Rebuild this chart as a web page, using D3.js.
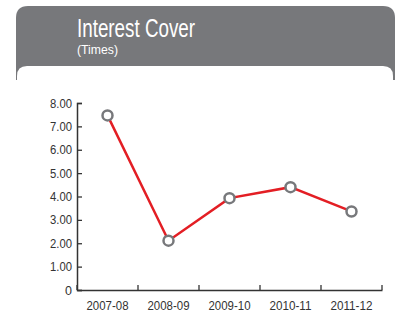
<!DOCTYPE html>
<html>
<head>
<meta charset="utf-8">
<script src="https://cdn.jsdelivr.net/npm/d3@7"></script>
<style>
  body { margin: 0; background: #fff; }
  svg { display: block; }
  text { font-family: "Liberation Sans Narrow", "Arial Narrow", "Liberation Sans", Arial, sans-serif; }
</style>
</head>
<body>
<div id="wrapper"></div>
<script>
const years = ["2007-08", "2008-09", "2009-10", "2010-11", "2011-12"];
const cover = [7.47, 2.11, 3.93, 4.40, 3.36];
const yTicks = [0, 1, 2, 3, 4, 5, 6, 7, 8];

const width = 395, height = 313;
const margin = {top: 103, right: 13, bottom: 23, left: 77};

const svg = d3.select("#wrapper")
    .append("svg")
    .attr("width", width)
    .attr("height", height);

// header box
const grey = "#77787b";
svg.append("path")
    .attr("d", "M16,80 V18 Q16,6 28,6 H383 Q395,6 395,18 V80 Z")
    .attr("fill", grey);

svg.append("path")
    .attr("d", "M17,80 V76 Q17,66 27,66 H383 Q393,66 393,76 V80 Z")
    .attr("fill", "#fff");

svg.append("text")
    .attr("x", 77)
    .attr("y", 37)
    .attr("fill", "#fff")
    .attr("textLength", 118)
    .attr("lengthAdjust", "spacingAndGlyphs")
    .style("font-size", "25px")
    .text("Interest Cover");

svg.append("text")
    .attr("x", 77)
    .attr("y", 54)
    .attr("fill", "#fff")
    .attr("textLength", 41)
    .attr("lengthAdjust", "spacingAndGlyphs")
    .style("font-size", "12.5px")
    .text("(Times)");

const x = d3.scaleBand()
    .domain(years)
    .range([margin.left, width - margin.right]);

const y = d3.scaleLinear()
    .domain([0, 8])
    .range([height - margin.bottom, margin.top]);

const xAxis = svg.append("g")
    .attr("transform", `translate(0,${height - margin.bottom})`)
    .call(d3.axisBottom(x).tickSize(0).tickPadding(11));

xAxis.selectAll("text")
    .attr("fill", "#333")
    .attr("textLength", 42)
    .attr("lengthAdjust", "spacingAndGlyphs")
    .style("font-size", "12.5px");

// band boundary ticks, pointing up
xAxis.selectAll(".bound")
    .data(years.concat([null]))
    .enter()
    .append("line")
    .attr("class", "bound")
    .attr("x1", (d, i) => margin.left + i * x.bandwidth())
    .attr("x2", (d, i) => margin.left + i * x.bandwidth())
    .attr("y1", 0)
    .attr("y2", -5)
    .attr("stroke", "#333")
    .attr("stroke-width", 1.3);

xAxis.select(".domain")
    .attr("stroke", "#333")
    .attr("stroke-width", 1.5);

const yAxis = svg.append("g")
    .attr("transform", `translate(${margin.left},0)`)
    .call(d3.axisRight(y).tickValues(yTicks).tickSize(5)
        .tickFormat(d => d === 0 ? "0" : d3.format(".2f")(d)));

yAxis.select(".domain")
    .attr("stroke", "#333")
    .attr("stroke-width", 1.5);

yAxis.selectAll("line")
    .attr("stroke", "#333")
    .attr("stroke-width", 1.3);

yAxis.selectAll("text")
    .attr("x", -5)
    .attr("fill", "#333")
    .attr("textLength", d => d === 0 ? null : 22)
    .attr("lengthAdjust", "spacingAndGlyphs")
    .style("text-anchor", "end")
    .style("font-size", "12.5px");

const line = d3.line()
    .x((d, i) => x(years[i]) + x.bandwidth() / 2)
    .y(d => y(d));

svg.append("path")
    .datum(cover)
    .attr("d", line)
    .attr("fill", "none")
    .attr("stroke", "#e31e24")
    .attr("stroke-width", 2.5);

svg.selectAll(".dot")
    .data(cover)
    .enter()
    .append("circle")
    .attr("class", "dot")
    .attr("cx", (d, i) => x(years[i]) + x.bandwidth() / 2)
    .attr("cy", d => y(d))
    .attr("r", 5)
    .attr("fill", "#fff")
    .attr("stroke", grey)
    .attr("stroke-width", 2.5);
</script>
</body>
</html>
